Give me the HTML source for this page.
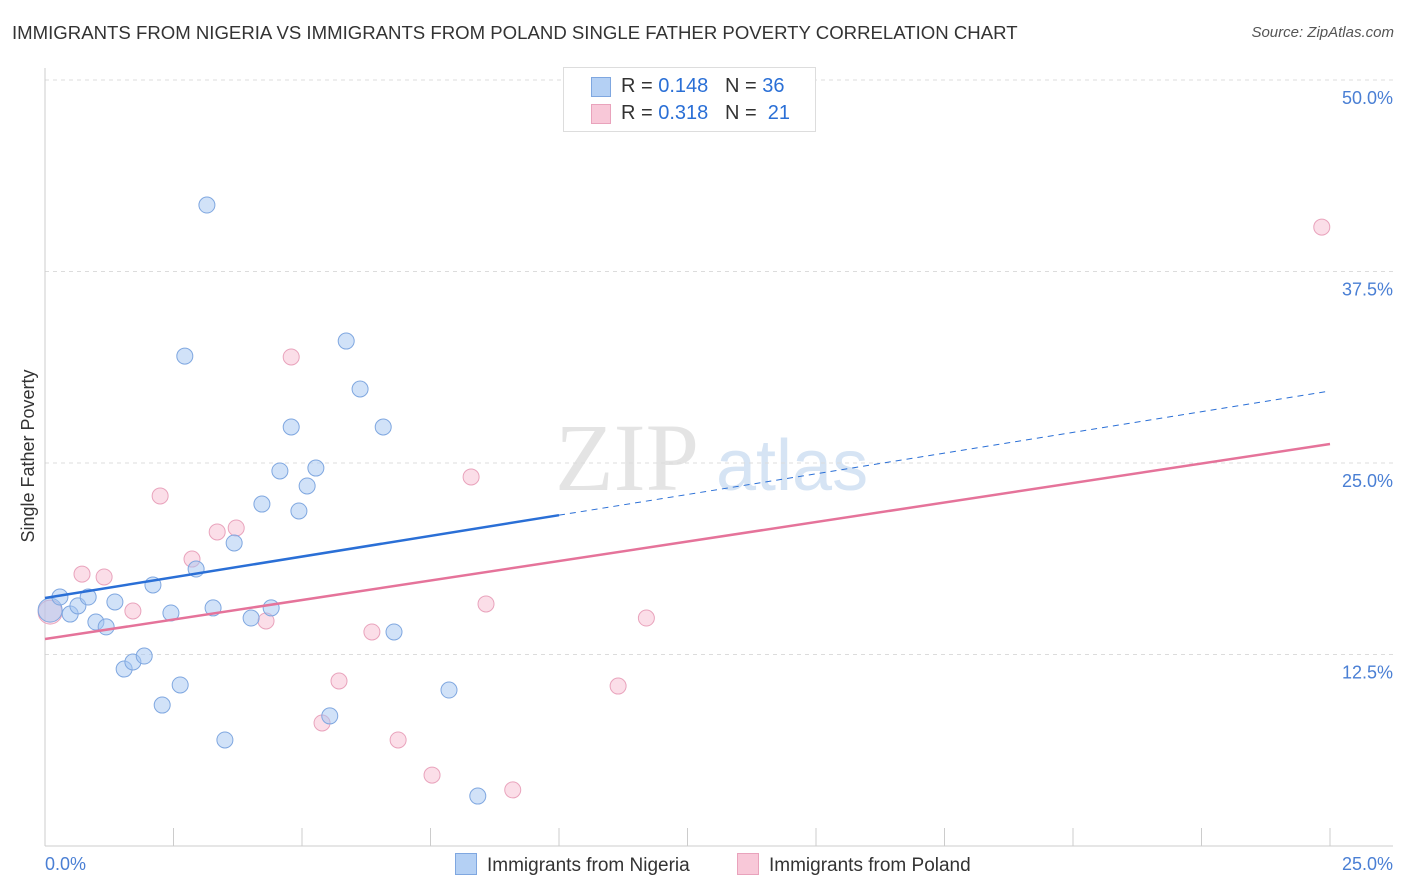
<!DOCTYPE html>
<html><head><meta charset="utf-8"><style>
body{margin:0;background:#fff;font-family:"Liberation Sans",sans-serif;}
#wrap{position:relative;width:1406px;height:892px;overflow:hidden;}
.t{position:absolute;white-space:nowrap;}
</style></head><body>
<div id="wrap">
<div class="t" style="left:12px;top:22px;font-size:18.6px;color:#333;">IMMIGRANTS FROM NIGERIA VS IMMIGRANTS FROM POLAND SINGLE FATHER POVERTY CORRELATION CHART</div>
<div class="t" style="right:12px;top:24px;font-size:15px;color:#555;font-style:italic;">Source: ZipAtlas.com</div>
<svg id="svg" width="1406" height="892" style="position:absolute;left:0;top:0"></svg>
</div>
<script>
const yTicks=[12.5,25,37.5,50];
const yTickLabels=["12.5%","25.0%","37.5%","50.0%"];
const xEndLabels=["0.0%","25.0%"];
const nigX=[0.10,0.29,0.49,0.64,0.84,0.99,1.19,1.36,1.54,1.71,1.93,2.10,2.28,2.45,2.63,2.72,2.94,3.15,3.27,3.50,3.68,4.01,4.22,4.40,4.57,4.79,4.94,5.10,5.27,5.54,5.86,6.13,6.58,6.79,7.86,8.42];
const nigY=[15.40,16.25,15.14,15.67,16.25,14.62,14.30,15.93,11.55,12.01,12.40,17.04,9.20,15.21,10.51,31.98,18.08,41.84,15.54,6.92,19.78,14.88,22.32,15.54,24.48,27.35,21.87,23.50,24.67,8.49,32.96,29.83,27.35,13.97,10.18,3.26];
const polX=[0.10,0.72,1.15,1.71,2.24,2.86,3.35,3.72,4.30,4.79,5.39,5.72,6.36,6.87,7.53,8.29,8.58,9.10,11.15,11.70,24.84];
const polY=[15.27,17.75,17.56,15.34,22.85,18.73,20.50,20.76,14.69,31.92,8.03,10.77,13.97,6.92,4.63,24.09,15.80,3.66,10.44,14.88,40.40];
const nigLine=[16.19,29.70];
const polLine=[13.51,26.24];
const NS="http://www.w3.org/2000/svg";
const svg=document.getElementById('svg');
const X=v=>45+v/25*1285;
const Y=v=>846-v/12.5*191.5;
function mk(tag,at){const e=document.createElementNS(NS,tag);for(const k in at)e.setAttribute(k,at[k]);svg.appendChild(e);return e;}
let wm=mk('text',{x:555,y:490,'font-size':96,fill:'#e4e4e4','font-family':'Liberation Serif'});wm.textContent='ZIP';


let wm2=mk('text',{x:716,y:490,'font-size':72,fill:'#d6e4f4','font-family':'Liberation Sans'});wm2.textContent='atlas';


yTicks.forEach((t,i)=>{
 const g=mk('line',{x1:45,x2:1393,y1:Y(t),y2:Y(t),stroke:'#dcdcdc','stroke-dasharray':'4,4'});
 
 
 const tx=mk('text',{x:1393,y:Y(t)+24,'text-anchor':'end','font-size':18,fill:'#4a7fd4'});tx.textContent=yTickLabels[i];
 
 
});
mk('line',{x1:45,x2:45,y1:68,y2:846,stroke:'#ccc'});
let ax=mk('line',{x1:45,x2:1393,y1:846,y2:846,stroke:'#ccc'});


for(let i=0;i<=10;i++){mk('line',{x1:X(i*2.5),x2:X(i*2.5),y1:828,y2:846,stroke:'#ccc'});}
[[0,'start',45],[1,'end',1393]].forEach(([i,a,x])=>{const t=mk('text',{x:x,y:870,'text-anchor':a,'font-size':18,fill:'#4a7fd4'});t.textContent=xEndLabels[i];
 
 });
let yt=mk('text',{x:34,y:456,'text-anchor':'middle','font-size':18,fill:'#333',transform:'rotate(-90 34 456)'});yt.textContent='Single Father Poverty';


function pts(xs,ys,fill,stroke,name){xs.forEach((x,i)=>{const c=mk('circle',{cx:X(x),cy:Y(ys[i]),r:i==0?12:8,fill:fill,stroke:stroke,'stroke-width':1});
 
 });}
pts(polX,polY,'rgba(246,182,204,0.45)','#e9a3bc','point-poland');
pts(nigX,nigY,'rgba(164,198,242,0.5)','#7fa7e0','point-nigeria');
const bx=10.0;
let l1=mk('line',{x1:X(0),y1:Y(nigLine[0]),x2:X(bx),y2:Y(nigLine[0]+(nigLine[1]-nigLine[0])*bx/25),stroke:'#2a6fd6','stroke-width':2.5});


let l1d=mk('line',{x1:X(bx),y1:Y(nigLine[0]+(nigLine[1]-nigLine[0])*bx/25),x2:X(25),y2:Y(nigLine[1]),stroke:'#2a6fd6','stroke-width':1,'stroke-dasharray':'6,5'});


let l2=mk('line',{x1:X(0),y1:Y(polLine[0]),x2:X(25),y2:Y(polLine[1]),stroke:'#e5739a','stroke-width':2.5});


</script>
<div class="t" style="left:563px;top:67px;width:251px;height:63px;border:1px solid #ddd;background:#fff;font-size:20px;color:#333;">
 <div style="position:absolute;left:27px;top:9px;width:18px;height:18px;background:#b4d0f4;border:1px solid #7fa7e0"></div>
 <div style="position:absolute;left:57px;top:7px">R = <span style="color:#2a6fd6">0.148</span>&nbsp;&nbsp;&nbsp;N = <span style="color:#2a6fd6">36</span></div>
 <div style="position:absolute;left:27px;top:36px;width:18px;height:18px;background:#f8c8d8;border:1px solid #e9a3bc"></div>
 <div style="position:absolute;left:57px;top:34px">R = <span style="color:#2a6fd6">0.318</span>&nbsp;&nbsp;&nbsp;N = &nbsp;<span style="color:#2a6fd6">21</span></div>
</div>
<div class="t" style="left:455px;top:853px;font-size:19px;color:#333"><span style="display:inline-block;width:20px;height:20px;background:#b4d0f4;border:1px solid #7fa7e0;vertical-align:-4px;margin-right:10px"></span>Immigrants from Nigeria</div>
<div class="t" style="left:737px;top:853px;font-size:19px;color:#333"><span style="display:inline-block;width:20px;height:20px;background:#f8c8d8;border:1px solid #e9a3bc;vertical-align:-4px;margin-right:10px"></span>Immigrants from Poland</div>
</body></html>
